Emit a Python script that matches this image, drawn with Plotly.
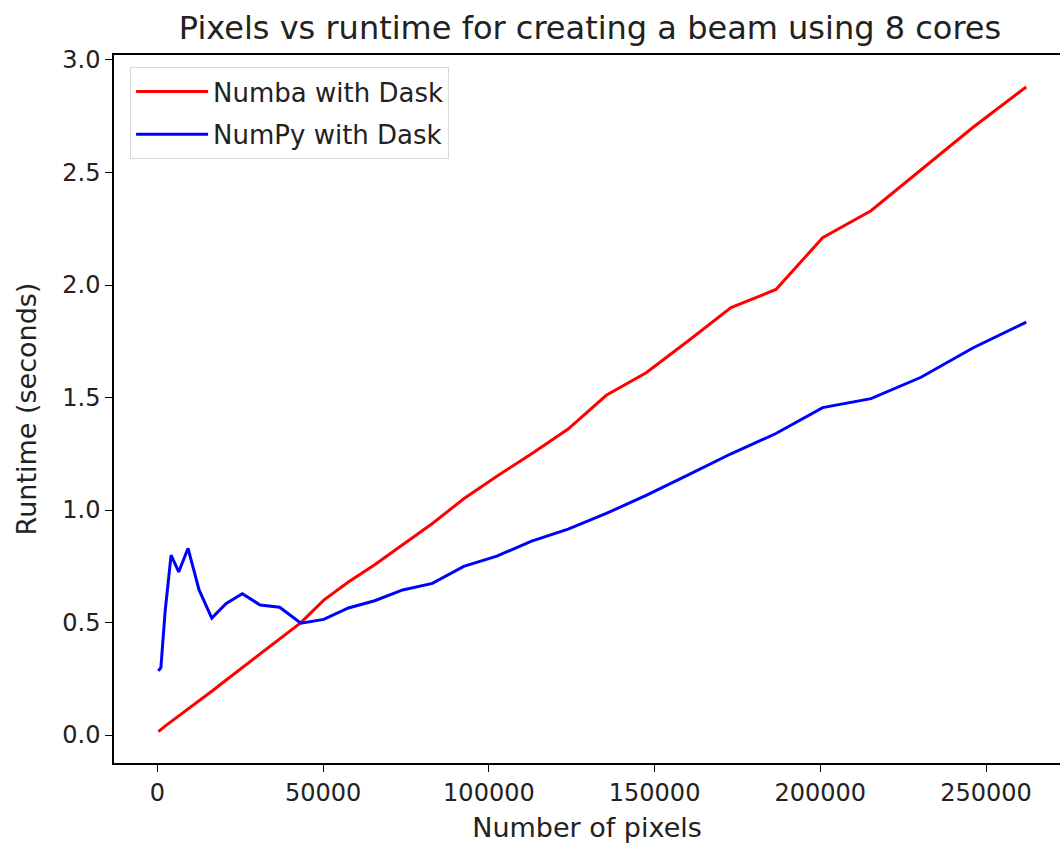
import plotly.graph_objects as go

# Data (pixels = side^2, side from 16 to 512 step 16)
pixels = [256, 1024, 2304, 4096, 6400, 9216, 12544, 16384, 20736, 25600, 30976,
          36864, 43264, 50176, 57600, 65536, 73984, 82944, 92416, 102400, 112896,
          123904, 135424, 147456, 160000, 173056, 186624, 200704, 215296, 230400,
          246016, 262144]

numba_dask = [0.015, 0.025, 0.04, 0.06, 0.085, 0.115, 0.155, 0.195, 0.245, 0.30, 0.36,
              0.425, 0.50, 0.60, 0.68, 0.757, 0.845, 0.94, 1.05, 1.15, 1.25,
              1.36, 1.51, 1.61, 1.75, 1.90, 1.98, 2.21, 2.33, 2.51,
              2.70, 2.88]

numpy_dask = [0.285, 0.30, 0.55, 0.80, 0.725, 0.83, 0.645, 0.52, 0.585, 0.628, 0.578,
              0.568, 0.497, 0.514, 0.565, 0.597, 0.645, 0.674, 0.75, 0.795, 0.862,
              0.915, 0.985, 1.065, 1.155, 1.25, 1.34, 1.455, 1.495, 1.59,
              1.72, 1.835]

x_ticks = [0, 50000, 100000, 150000, 200000, 250000]
y_ticks = [0.0, 0.5, 1.0, 1.5, 2.0, 2.5, 3.0]

FONT = "DejaVu Sans"

fig = go.Figure()
fig.add_trace(go.Scatter(x=pixels, y=numba_dask, mode="lines", name="Numba with Dask",
                         legendgroup="a",
                         line=dict(color="#ff0000", width=3)))
fig.add_trace(go.Scatter(x=pixels, y=numpy_dask, mode="lines", name="NumPy with Dask",
                         legendgroup="b",
                         line=dict(color="#0000ff", width=3)))

axis_common = dict(showline=True, linecolor="black", linewidth=1.5,
                   ticks="outside", ticklen=7, tickwidth=1.3, tickcolor="black",
                   showgrid=False, zeroline=False,
                   tickfont=dict(family=FONT, size=24, color="#222222"))

fig.update_layout(
    width=1060, height=850,
    margin=dict(l=114, r=0, t=55, b=87),
    paper_bgcolor="white", plot_bgcolor="white",
    font=dict(family=FONT, color="#222222"),
    title=dict(text="Pixels vs runtime for creating a beam using 8 cores",
               x=(178 + 1002) / 2 / 1060, xanchor="center", y=1 - 28 / 850, yanchor="middle",
               font=dict(family=FONT, size=32, color="#222222")),
    xaxis=dict(range=[-13126, 272330], tickvals=x_ticks, ticktext=[str(v) for v in x_ticks],
               mirror=True,
               title=dict(text="Number of pixels", standoff=13,
                          font=dict(family=FONT, size=27, color="#222222")),
               **axis_common),
    yaxis=dict(range=[-0.124, 3.022], tickvals=y_ticks, ticktext=[f"{v:.1f}" for v in y_ticks],
               mirror=False,
               title=dict(text="Runtime (seconds)", standoff=18,
                          font=dict(family=FONT, size=27, color="#222222")),
               **axis_common),
    legend=dict(x=0.017, y=0.983, xanchor="left", yanchor="top",
                bgcolor="rgba(255,255,255,0.8)", bordercolor="#d8d8d8", borderwidth=1,
                font=dict(family=FONT, size=26, color="#222222"),
                itemwidth=72, tracegroupgap=6),
    showlegend=True,
)

fig.write_html("out.html")
